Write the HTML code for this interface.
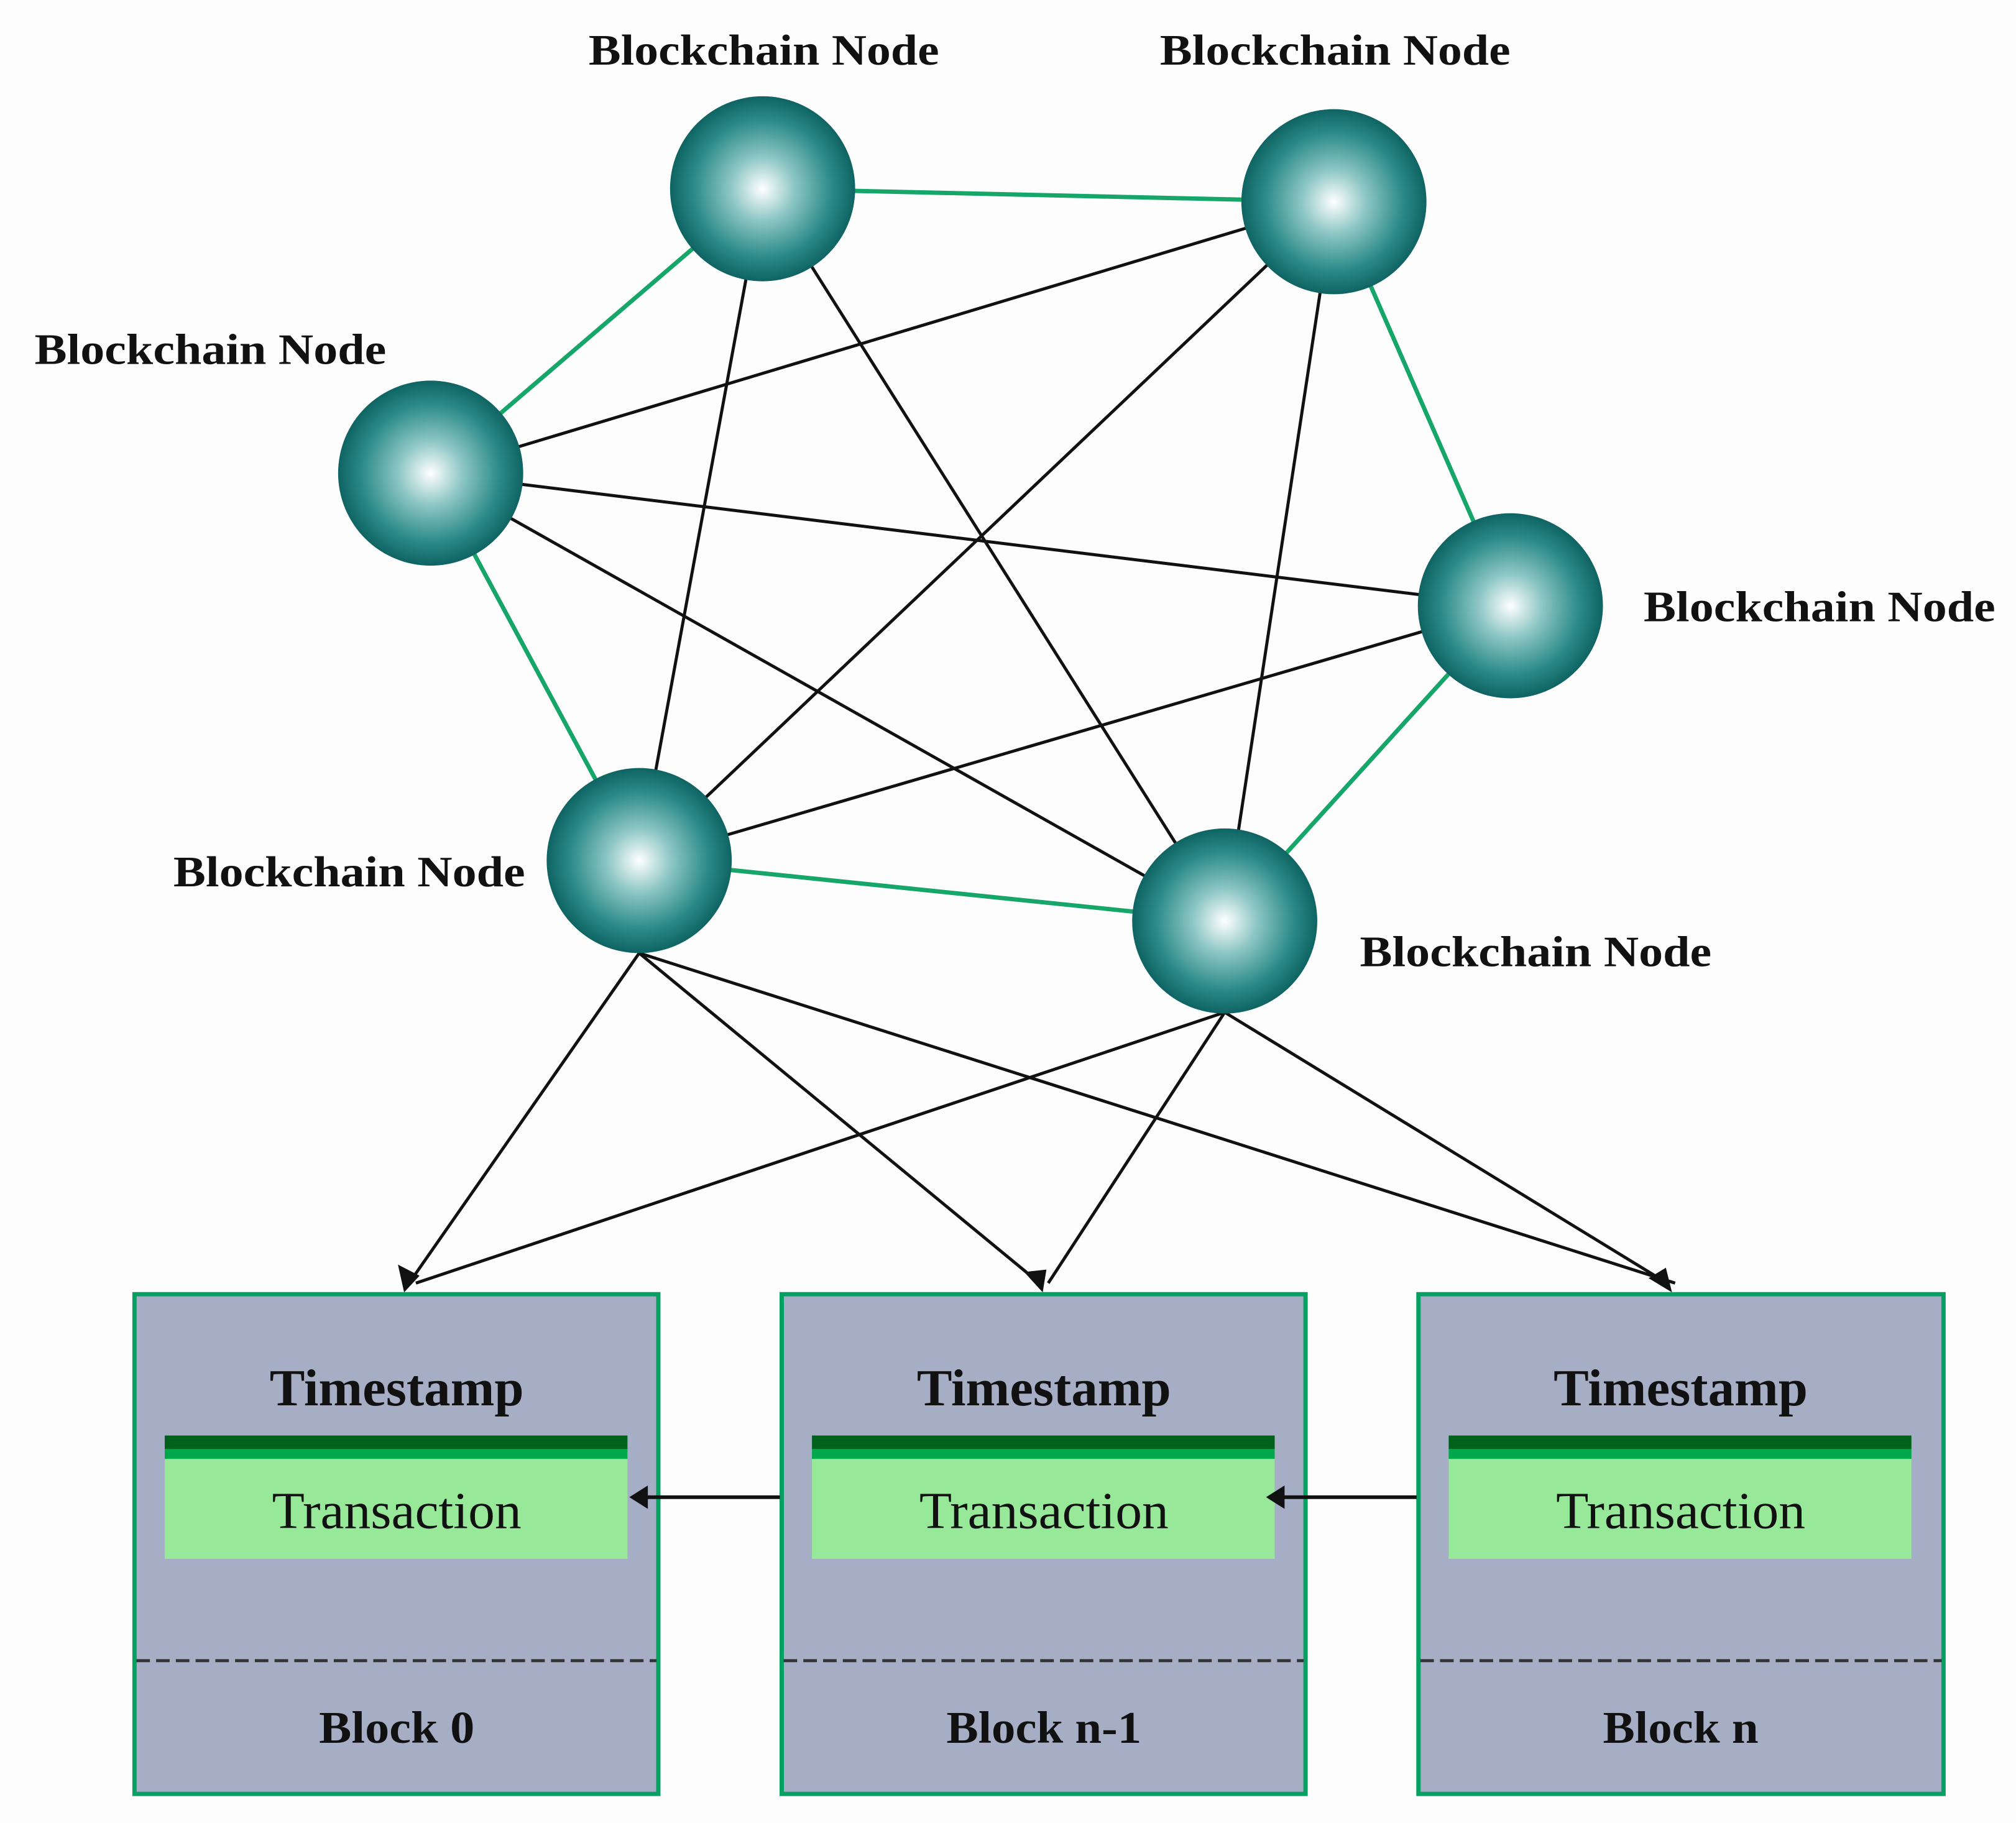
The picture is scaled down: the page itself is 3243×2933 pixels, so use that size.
<!DOCTYPE html>
<html><head><meta charset="utf-8"><style>
html,body{margin:0;padding:0;background:#fdfdfd;}
svg{display:block;}
text{font-family:"Liberation Serif",serif;fill:#111;}
</style></head><body>
<svg width="3243" height="2933" viewBox="0 0 3243 2933" xmlns="http://www.w3.org/2000/svg">
<defs>
<radialGradient id="sph" cx="50%" cy="50%" r="50%">
<stop offset="0" stop-color="#ffffff"/>
<stop offset="0.35" stop-color="#8cc6c4"/>
<stop offset="0.75" stop-color="#2a8a88"/>
<stop offset="1" stop-color="#0f6462"/>
</radialGradient>
</defs>
<rect width="3243" height="2933" fill="#fdfdfd"/>
<g transform="scale(0.9925)">
<g stroke="#16a66a" stroke-width="7">
<line x1="1236" y1="306" x2="2162" y2="327"/>
<line x1="1236" y1="306" x2="698" y2="767"/>
<line x1="698" y1="767" x2="1036" y2="1395"/>
<line x1="1036" y1="1395" x2="1985" y2="1493"/>
<line x1="1985" y1="1493" x2="2448" y2="982"/>
<line x1="2448" y1="982" x2="2162" y2="327"/>
</g>
<g stroke="#111" stroke-width="5">
<line x1="1236" y1="306" x2="1036" y2="1395"/>
<line x1="1236" y1="306" x2="1985" y2="1493"/>
<line x1="2162" y1="327" x2="698" y2="767"/>
<line x1="2162" y1="327" x2="1036" y2="1395"/>
<line x1="2162" y1="327" x2="1985" y2="1493"/>
<line x1="698" y1="767" x2="2448" y2="982"/>
<line x1="698" y1="767" x2="1985" y2="1493"/>
<line x1="2448" y1="982" x2="1036" y2="1395"/>
</g>
<g stroke="#111" stroke-width="5">
<line x1="1036" y1="1545" x2="663" y2="2080"/>
<line x1="1036" y1="1545" x2="1685" y2="2080"/>
<line x1="1036" y1="1545" x2="2715" y2="2080"/>
<line x1="1985" y1="1641" x2="674" y2="2080"/>
<line x1="1985" y1="1641" x2="1699" y2="2080"/>
<line x1="1985" y1="1641" x2="2702" y2="2080"/>
</g>
<g fill="#111">
<polygon points="655,2095 645,2050 680,2068"/>
<polygon points="1690,2095 1660,2062 1696,2058"/>
<polygon points="2710,2095 2672,2072 2700,2055"/>
</g>
<g fill="url(#sph)">
<circle cx="1236" cy="306" r="150"/>
<circle cx="2162" cy="327" r="150"/>
<circle cx="698" cy="767" r="150"/>
<circle cx="2448" cy="982" r="150"/>
<circle cx="1036" cy="1395" r="150"/>
<circle cx="1985" cy="1493" r="150"/>
</g>
<g font-size="70" font-weight="bold">
<text x="1238" y="105" text-anchor="middle" textLength="568" lengthAdjust="spacingAndGlyphs">Blockchain Node</text>
<text x="2164" y="105" text-anchor="middle" textLength="568" lengthAdjust="spacingAndGlyphs">Blockchain Node</text>
<text x="56" y="590" textLength="570" lengthAdjust="spacingAndGlyphs">Blockchain Node</text>
<text x="2664" y="1007" textLength="570" lengthAdjust="spacingAndGlyphs">Blockchain Node</text>
<text x="281" y="1437" textLength="570" lengthAdjust="spacingAndGlyphs">Blockchain Node</text>
<text x="2204" y="1566" textLength="570" lengthAdjust="spacingAndGlyphs">Blockchain Node</text>
</g>
<g>
<g transform="translate(215,0)">
<rect x="3" y="2098" width="849" height="810" fill="#a6aec6" stroke="#05a062" stroke-width="7"/>
<rect x="52" y="2327" width="750" height="22" fill="#00621a"/>
<rect x="52" y="2349" width="750" height="16" fill="#00a84c"/>
<rect x="52" y="2365" width="750" height="162" fill="#98e89a"/>
<line x1="6" y1="2692" x2="849" y2="2692" stroke="#333" stroke-width="5" stroke-dasharray="22,10"/>
<text x="428" y="2278" text-anchor="middle" font-size="84" font-weight="bold" textLength="412" lengthAdjust="spacingAndGlyphs">Timestamp</text>
<text x="428" y="2477" text-anchor="middle" font-size="84" textLength="404" lengthAdjust="spacingAndGlyphs">Transaction</text>
<text x="428" y="2825" text-anchor="middle" font-size="74" font-weight="bold" textLength="252" lengthAdjust="spacingAndGlyphs">Block 0</text>
</g>
<g transform="translate(1264,0)">
<rect x="3" y="2098" width="849" height="810" fill="#a6aec6" stroke="#05a062" stroke-width="7"/>
<rect x="52" y="2327" width="750" height="22" fill="#00621a"/>
<rect x="52" y="2349" width="750" height="16" fill="#00a84c"/>
<rect x="52" y="2365" width="750" height="162" fill="#98e89a"/>
<line x1="6" y1="2692" x2="849" y2="2692" stroke="#333" stroke-width="5" stroke-dasharray="22,10"/>
<text x="428" y="2278" text-anchor="middle" font-size="84" font-weight="bold" textLength="412" lengthAdjust="spacingAndGlyphs">Timestamp</text>
<text x="428" y="2477" text-anchor="middle" font-size="84" textLength="404" lengthAdjust="spacingAndGlyphs">Transaction</text>
<text x="428" y="2825" text-anchor="middle" font-size="74" font-weight="bold" textLength="316" lengthAdjust="spacingAndGlyphs">Block n-1</text>
</g>
<g transform="translate(2296,0)">
<rect x="3" y="2098" width="851" height="810" fill="#a6aec6" stroke="#05a062" stroke-width="7"/>
<rect x="52" y="2327" width="750" height="22" fill="#00621a"/>
<rect x="52" y="2349" width="750" height="16" fill="#00a84c"/>
<rect x="52" y="2365" width="750" height="162" fill="#98e89a"/>
<line x1="6" y1="2692" x2="851" y2="2692" stroke="#333" stroke-width="5" stroke-dasharray="22,10"/>
<text x="428" y="2278" text-anchor="middle" font-size="84" font-weight="bold" textLength="412" lengthAdjust="spacingAndGlyphs">Timestamp</text>
<text x="428" y="2477" text-anchor="middle" font-size="84" textLength="404" lengthAdjust="spacingAndGlyphs">Transaction</text>
<text x="428" y="2825" text-anchor="middle" font-size="74" font-weight="bold" textLength="252" lengthAdjust="spacingAndGlyphs">Block n</text>
</g>
</g>
<g stroke="#111" stroke-width="6">
<line x1="1264" y1="2427" x2="1045" y2="2427"/>
<line x1="2296" y1="2427" x2="2077" y2="2427"/>
</g>
<g fill="#111">
<polygon points="1020,2427 1050,2408 1050,2446"/>
<polygon points="2052,2427 2082,2408 2082,2446"/>
</g>
</g>
</svg>
</body></html>
